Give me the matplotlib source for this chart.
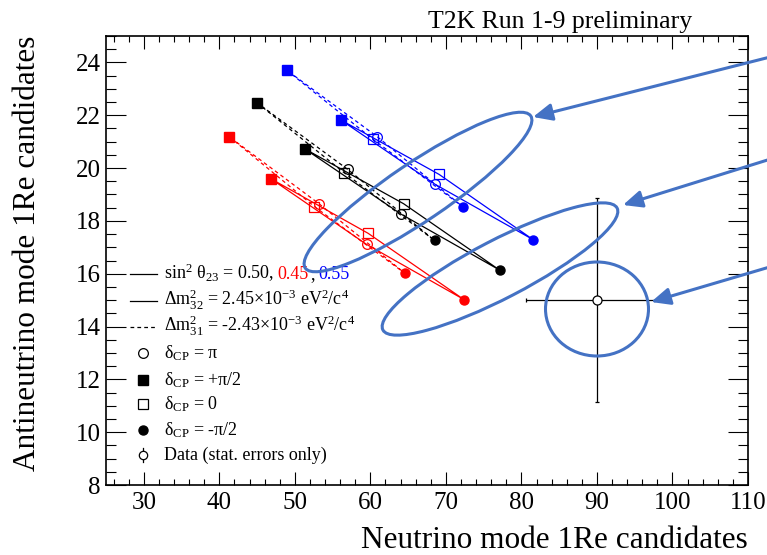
import matplotlib.pyplot as plt
from matplotlib.patches import Ellipse, FancyArrowPatch
from matplotlib.ticker import MultipleLocator
from matplotlib.transforms import Affine2D

plt.rcParams['font.family'] = ['Liberation Serif', 'DejaVu Serif']
plt.rcParams['mathtext.fontset'] = 'custom'
plt.rcParams['mathtext.rm'] = 'Liberation Serif'
plt.rcParams['mathtext.it'] = 'Liberation Serif:italic'
plt.rcParams['mathtext.default'] = 'regular'

# points around each loop, in the order dCP = +pi/2, 0, -pi/2, pi
nu_050_nh = [51.3, 64.4, 77.1, 64.1]
nubar_050_nh = [20.73, 18.65, 16.14, 18.25]
nu_050_ih = [45.0, 56.5, 68.5, 57.0]
nubar_050_ih = [22.47, 19.83, 17.26, 19.95]
nu_045_nh = [46.8, 59.7, 72.4, 59.5]
nubar_045_nh = [19.60, 17.53, 15.02, 17.11]
nu_045_ih = [41.3, 52.6, 64.6, 53.2]
nubar_045_ih = [21.19, 18.54, 16.01, 18.65]
nu_055_nh = [56.1, 69.1, 81.6, 68.6]
nubar_055_nh = [21.82, 19.76, 17.28, 19.38]
nu_055_ih = [48.9, 60.35, 72.25, 60.9]
nubar_055_ih = [23.71, 21.09, 18.53, 21.19]

data_nu = 90
data_nubar = 15
data_nu_err = 9.4
data_nubar_err = 3.85

W, H = 767, 555
fig = plt.figure(figsize=(W / 100, H / 100), dpi=100)
ax = fig.add_axes([106 / W, 70 / H, 642 / W, 449 / H])
ax.set_xlim(25, 110)
ax.set_ylim(8, 25)


def draw_loop(nu, nubar, color, ls):
    ax.plot(nu + nu[:1], nubar + nubar[:1], color=color, lw=0.9, ls=ls)
    ax.plot(nu[0], nubar[0], 's', color=color, ms=7)
    ax.plot(nu[1], nubar[1], 's', mfc='none', mec=color, ms=6.5, mew=0.9)
    ax.plot(nu[2], nubar[2], 'o', color=color, ms=6.5)
    ax.plot(nu[3], nubar[3], 'o', mfc='none', mec=color, ms=7, mew=0.9)


dash = (0, (3, 2.5))
draw_loop(nu_045_ih, nubar_045_ih, 'red', dash)
draw_loop(nu_050_ih, nubar_050_ih, 'black', dash)
draw_loop(nu_055_ih, nubar_055_ih, 'blue', dash)
draw_loop(nu_045_nh, nubar_045_nh, 'red', '-')
draw_loop(nu_050_nh, nubar_050_nh, 'black', '-')
draw_loop(nu_055_nh, nubar_055_nh, 'blue', '-')

ax.errorbar(data_nu, data_nubar, xerr=data_nu_err, yerr=data_nubar_err, fmt='o',
            mfc='white', mec='black', ms=6.5, mew=0.9, ecolor='black',
            elinewidth=0.9, capsize=1.5, capthick=0.9, zorder=5)

# axes style
ax.xaxis.set_major_locator(MultipleLocator(10))
ax.xaxis.set_minor_locator(MultipleLocator(2))
ax.yaxis.set_major_locator(MultipleLocator(2))
ax.yaxis.set_minor_locator(MultipleLocator(0.5))
ax.tick_params(which='both', direction='in', top=True, right=True, width=0.8,
               labelsize=18)
ax.tick_params(axis='x', which='major', length=9.2, pad=5)
ax.tick_params(axis='x', which='minor', length=4.5)
ax.tick_params(axis='y', which='major', length=14.4, pad=4)
ax.tick_params(axis='y', which='minor', length=7.2)
for sp in ax.spines.values():
    sp.set_linewidth(1.2)

fig.text(748 / W, 1 - 548 / H, 'Neutrino mode 1Re candidates', ha='right',
         va='baseline', fontsize=22.5)
fig.text(35 / W, 1 - 36 / H, 'Antineutrino mode 1Re candidates', ha='right',
         va='baseline', rotation=90, rotation_mode='anchor', fontsize=22.5)
fig.text(560 / W, 1 - 28 / H, 'T2K Run 1-9 preliminary', ha='center',
         va='baseline', fontsize=18.5)


# legend, placed by image pixel
def ax_x(px):
    return (px - 106) / 642


def ax_y(py):
    return (485 - py) / 449


rows = [274, 301, 327, 353, 380, 404, 430, 455]
tx = ax_x(164)
fs = 13
T = ax.transAxes
ax.plot([ax_x(130), ax_x(157)], [ax_y(rows[0])] * 2, color='black', lw=0.9, transform=T)
ax.plot([ax_x(130), ax_x(157)], [ax_y(rows[1])] * 2, color='black', lw=0.9, transform=T)
ax.plot([ax_x(130), ax_x(157)], [ax_y(rows[2])] * 2, color='black', lw=0.9, ls=dash,
        transform=T)
mx = ax_x(143)
ax.plot(mx, ax_y(rows[3]), 'o', mfc='none', mec='black', ms=7, mew=0.9, transform=T)
ax.plot(mx, ax_y(rows[4]), 's', color='black', ms=7, transform=T)
ax.plot(mx, ax_y(rows[5]), 's', mfc='none', mec='black', ms=6.5, mew=0.9, transform=T)
ax.plot(mx, ax_y(rows[6]), 'o', color='black', ms=6.5, transform=T)
ax.plot([mx, mx], [ax_y(rows[7] - 7), ax_y(rows[7] + 7)], color='black', lw=0.9,
        transform=T)
ax.plot(mx, ax_y(rows[7]), 'o', mfc='white', mec='black', ms=6, mew=0.9, transform=T)

texts = [
    'sin$^{2}$ θ$_{23}$ = 0.50,',
    'Δm$^{2}_{32}$ = 2.45×10$^{-3}$ eV$^{2}$/c$^{4}$',
    'Δm$^{2}_{31}$ = -2.43×10$^{-3}$ eV$^{2}$/c$^{4}$',
    'δ$_{CP}$ = π',
    'δ$_{CP}$ = +π/2',
    'δ$_{CP}$ = 0',
    'δ$_{CP}$ = -π/2',
    'Data (stat. errors only)',
]
for row, s in zip(rows, texts):
    ax.text(tx, ax_y(row + 5), s, fontsize=fs, va='baseline', ha='left', transform=T)
ax.text(ax_x(277), ax_y(rows[0] + 5), '0.45', color='red', fontsize=fs,
        va='baseline', transform=T)
ax.text(ax_x(310), ax_y(rows[0] + 5), ',', color='black', fontsize=fs,
        va='baseline', transform=T)
ax.text(ax_x(318), ax_y(rows[0] + 5), '0.55', color='blue', fontsize=fs,
        va='baseline', transform=T)

# hand-drawn highlight ellipses and arrows, in image pixels
pix = Affine2D().scale(1 / W, -1 / H).translate(0, 1) + fig.transFigure
hl = '#4472C4'
for c, w, h, a in [((418, 192), 272, 58, -34), ((500, 269), 264, 58, -27.5),
                   ((597, 309), 103, 94, 0)]:
    fig.add_artist(Ellipse(c, w, h, angle=a, fill=False, ec=hl, lw=2.2,
                           transform=pix, zorder=10))
for start, tip in [((790, 52), (533, 117)), ((790, 153), (623, 205)),
                   ((790, 261), (651, 302))]:
    fig.add_artist(FancyArrowPatch(start, tip, arrowstyle='-|>,head_length=1.0,head_width=0.45',
                                   mutation_scale=11.5, lw=2.2, color=hl, shrinkA=0,
                                   shrinkB=0, transform=pix, zorder=10))

fig.savefig('out.png', dpi=100)
